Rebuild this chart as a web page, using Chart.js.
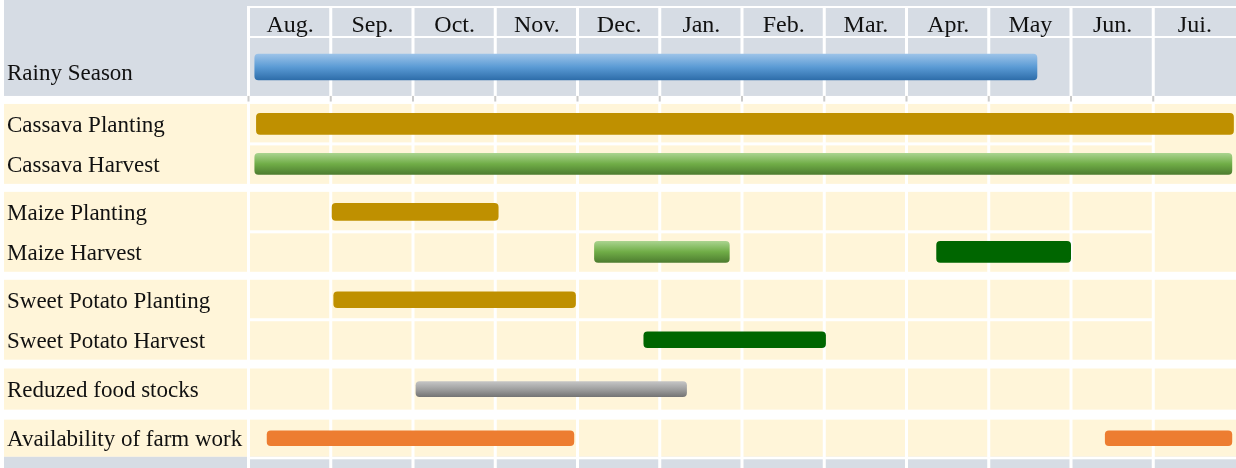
<!DOCTYPE html>
<html>
<head>
<meta charset="utf-8">
<script src="https://cdn.jsdelivr.net/npm/chart.js@4.4.1/dist/chart.umd.min.js"></script>
<style>
  html, body { margin: 0; padding: 0; background: #fff; }
  #wrap { width: 1236px; height: 468px; }
</style>
</head>
<body>
<div id="wrap"><canvas id="chart"></canvas></div>
<script>
const months = ["Aug.", "Sep.", "Oct.", "Nov.", "Dec.", "Jan.", "Feb.", "Mar.", "Apr.", "May", "Jun.", "Jui."];

const rowLabels = [
    "Rainy Season",
    "Cassava Planting",
    "Cassava Harvest",
    "Maize Planting",
    "Maize Harvest",
    "Sweet Potato Planting",
    "Sweet Potato Harvest",
    "Reduzed food stocks",
    "Availability of farm work"
];

// rows that belong together in one shaded block
const rowGroups = [[0], [1, 2], [3, 4], [5, 6], [7], [8]];

// bars, in months counted from the start of August
const barRow   = [0, 1, 2, 3, 4, 4, 5, 6, 7, 8, 8];
const barStart = [0.07, 0.09, 0.07, 1.01, 4.20, 8.36, 1.03, 4.80, 2.03, 0.22, 10.41];
const barEnd   = [9.58, 11.97, 11.95, 3.03, 5.84, 9.99, 3.97, 7.01, 5.32, 3.95, 11.95];
const barKind  = ["rain", "plant", "harvest", "plant", "harvest", "harvestDark", "plant", "harvestDark", "stocks", "work", "work"];

// layout, in row units
const rowSize = [1.45, 1, 1, 1, 1, 1, 1, 1.03, 0.93];
const gapBefore = [0, 0.2, 0.2, 0.2, 0.22, 0.25];
const bottomStrip = 0.28;
const barThick = [26, 21, 21, 17, 21, 16, 16, 15, 15];
const labelShift = [0.17, 0.06, 0.06, 0.05, 0.05, 0.05, 0.05, 0.05, 0.05];

const GRAY = "#D6DCE4";
const CREAM = "#FFF5D9";
const FONT = '"Liberation Serif", "Times New Roman", serif';

let pos = 0;
const rowTop = [], rowBot = [], groupTop = [], groupBot = [];
rowGroups.forEach((g, gi) => {
    pos += gapBefore[gi];
    groupTop.push(pos);
    g.forEach(r => {
        rowTop[r] = pos;
        pos += rowSize[r];
        rowBot[r] = pos;
    });
    groupBot.push(pos);
});
const yMax = pos + bottomStrip;
const rowMid = rowTop.map((t, i) => (t + rowBot[i]) / 2);

function vGradient(stops) {
    return c => {
        const chart = c.chart;
        if (!chart.chartArea || !chart.scales.y) return stops[1];
        const mid = chart.scales.y.getPixelForValue(c.raw.y);
        const h = c.dataset.barThickness / 2;
        const g = chart.ctx.createLinearGradient(0, mid - h, 0, mid + h);
        g.addColorStop(0, stops[0]);
        g.addColorStop(0.5, stops[1]);
        g.addColorStop(1, stops[2]);
        return g;
    };
}

const kindStyle = {
    rain:        { bg: vGradient(["#9CC3E8", "#5B9BD5", "#2E6DAA"]) },
    plant:       { bg: "#BF9000" },
    harvest:     { bg: vGradient(["#A9D38E", "#70AD47", "#4E7D30"]) },
    harvestDark: { bg: "#006600" },
    stocks:      { bg: vGradient(["#C4C4C4", "#A0A0A0", "#767676"]) },
    work:        { bg: "#ED7D31" }
};

const datasets = barRow.map((r, i) => ({
    label: rowLabels[r],
    data: [{ x: [barStart[i], barEnd[i]], y: rowMid[r] }],
    backgroundColor: kindStyle[barKind[i]].bg,
    barThickness: barThick[r],
    borderRadius: 4,
    borderSkipped: false,
    grouped: false,
    xAxisID: "x",
    yAxisID: "y"
}));

const tableBg = {
    id: "tableBg",
    beforeDraw(chart) {
        const { ctx, chartArea: a, scales: { x, y } } = chart;
        const W = chart.width, H = chart.height;
        const L = a.left, left = 4;
        ctx.save();
        ctx.fillStyle = "#fff";
        ctx.fillRect(0, 0, W, H);

        groupTop.forEach((t, gi) => {
            const top = gi === 0 ? 0 : y.getPixelForValue(t);
            const bot = y.getPixelForValue(groupBot[gi]);
            ctx.fillStyle = gi === 0 ? GRAY : CREAM;
            ctx.fillRect(left, top, W - left, bot - top);
        });
        const bTop = y.getPixelForValue(groupBot[groupBot.length - 1]);
        ctx.fillStyle = GRAY;
        ctx.fillRect(left, bTop, W - left, H - bTop);

        ctx.fillStyle = "#fff";
        ctx.fillRect(L - 2, 6, W, 2);
        ctx.fillRect(L - 2, a.top - 2, W, 2);
        ctx.fillRect(L - 2, bTop, W, 2.5);
        const lastCol = x.getPixelForValue(11);
        rowGroups.forEach(g => {
            for (let k = 1; k < g.length; k++) {
                const py = y.getPixelForValue(rowTop[g[k]]);
                ctx.fillRect(L, py - 1.5, lastCol - L - 1, 3);
            }
        });
        for (let m = 0; m < 12; m++) {
            const px = m === 0 ? L : x.getPixelForValue(m);
            ctx.fillRect(px - 2, 6, 3, H - 6);
        }

        // faint ticks under the rainy season block
        const gTop = y.getPixelForValue(groupBot[0]);
        const gBot = y.getPixelForValue(groupTop[1]);
        ctx.fillStyle = "#CACACA";
        for (let m = 0; m < 12; m++) {
            const px = m === 0 ? L : x.getPixelForValue(m);
            ctx.fillRect(px - 1.5, gTop, 2, (gBot - gTop) * 0.7);
        }
        ctx.restore();
    }
};

function noPad(scale) {
    scale.paddingTop = 0;
    scale.paddingBottom = 0;
    scale.paddingLeft = 0;
    scale.paddingRight = 0;
}

new Chart(document.getElementById("chart"), {
    type: "bar",
    data: { datasets: datasets },
    options: {
        indexAxis: "y",
        responsive: true,
        maintainAspectRatio: false,
        animation: false,
        layout: { padding: { left: 7, top: 5, right: 0, bottom: 0 } },
        plugins: { legend: { display: false }, tooltip: { enabled: false } },
        scales: {
            x: {
                type: "linear",
                min: 0,
                max: 12,
                offset: false,
                display: false
            },
            months: {
                type: "category",
                labels: months,
                position: "top",
                offset: true,
                grid: { display: false, drawTicks: false },
                border: { display: false },
                ticks: {
                    color: "#111",
                    font: { family: FONT, size: 24, lineHeight: 1 },
                    padding: 0,
                    maxRotation: 0,
                    autoSkip: false
                },
                afterFit(scale) { scale.height = 33; noPad(scale); }
            },
            y: {
                type: "linear",
                min: 0,
                max: yMax,
                reverse: true,
                offset: false,
                grid: { display: false, drawTicks: false, offset: false },
                border: { display: false },
                afterBuildTicks(scale) {
                    scale.ticks = rowMid.map((v, i) => ({ value: v + labelShift[i] }));
                },
                ticks: {
                    autoSkip: false,
                    crossAlign: "far",
                    color: "#111",
                    font: { family: FONT, size: 23 },
                    callback: (value, index) => rowLabels[index]
                },
                afterFit(scale) { scale.width = 242; noPad(scale); }
            }
        }
    },
    plugins: [tableBg]
});
</script>
</body>
</html>
